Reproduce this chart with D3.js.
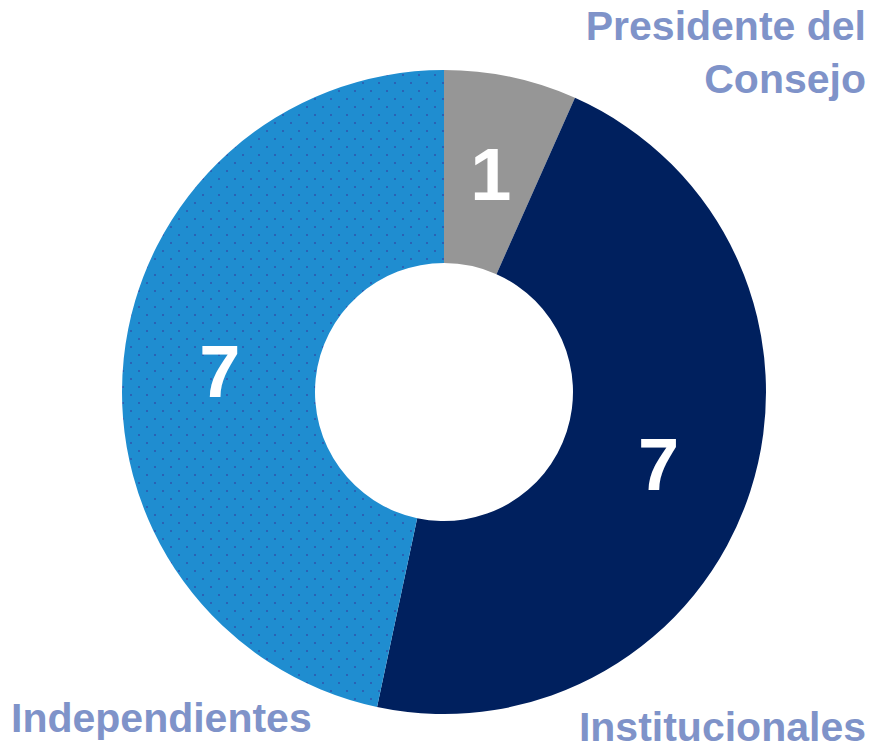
<!DOCTYPE html>
<html>
<head>
<meta charset="utf-8">
<script src="https://cdn.jsdelivr.net/npm/d3@7"></script>
<style>
  html, body { margin: 0; padding: 0; background: #fff; }
  svg { display: block; }
  .cat { font-family: "Liberation Sans", Arial, sans-serif; font-weight: bold; font-size: 41px; fill: #7f93c9; }
  .val { font-family: "Liberation Sans", Arial, sans-serif; font-weight: bold; font-size: 74px; fill: #fff; }
</style>
</head>
<body>
<svg id="chart" width="876" height="751"></svg>
<script>
  const categories = ["Presidente del Consejo", "Institucionales", "Independientes"];
  const values = [1, 7, 7];
  const colors = ["#969696", "#00205e", "#1f8dd0"];

  const W = 876, H = 751;
  const cx = 444, cy = 392;
  const outerR = 322, innerR = 129;

  const svg = d3.select("#chart");

  // dotted fill for the light blue slice
  const defs = svg.append("defs");
  const pat = defs.append("pattern")
    .attr("id", "dots")
    .attr("patternUnits", "userSpaceOnUse")
    .attr("width", 16).attr("height", 16)
    .attr("x", cx % 16).attr("y", cy % 16);
  pat.append("rect").attr("width", 16).attr("height", 16).attr("fill", colors[2]);
  pat.append("rect").attr("x", 2).attr("y", 2).attr("width", 2).attr("height", 2).attr("fill", "#2b62b5");
  pat.append("rect").attr("x", 10).attr("y", 10).attr("width", 2).attr("height", 2).attr("fill", "#2b62b5");

  const pie = d3.pie().sort(null).value((d) => d);
  const arcs = pie(values);
  const arc = d3.arc().innerRadius(innerR).outerRadius(outerR);

  const g = svg.append("g").attr("transform", `translate(${cx},${cy})`);

  g.selectAll("path.slice")
    .data(arcs)
    .join("path")
    .attr("class", "slice")
    .attr("d", arc)
    .attr("fill", (d, i) => (i === 2 ? "url(#dots)" : colors[i]));

  g.selectAll("text.val")
    .data(arcs)
    .join("text")
    .attr("class", "val")
    .attr("text-anchor", "middle")
    .attr("dy", "0.36em")
    .attr("transform", (d) => {
      const [x, y] = arc.centroid(d);
      return `translate(${x},${y + 2})`;
    })
    .text((d) => d.data);

  // category labels
  const pres = svg.append("text").attr("class", "cat").attr("text-anchor", "end");
  pres.append("tspan").attr("x", 866).attr("y", 40).text("Presidente del");
  pres.append("tspan").attr("x", 866).attr("y", 93).text("Consejo");

  svg.append("text").attr("class", "cat").attr("text-anchor", "end")
    .attr("x", 866).attr("y", 741).text(categories[1]);

  svg.append("text").attr("class", "cat").attr("text-anchor", "start")
    .attr("x", 11).attr("y", 732).text(categories[2]);
</script>
</body>
</html>
